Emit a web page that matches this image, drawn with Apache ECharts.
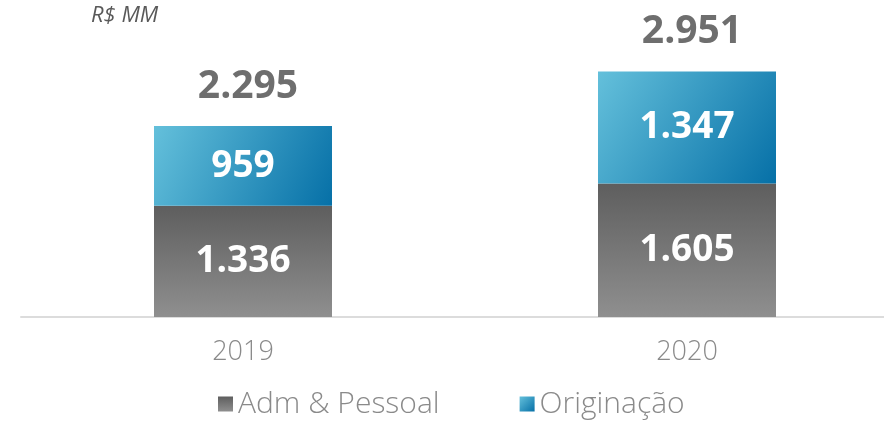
<!DOCTYPE html>
<html>
<head>
<meta charset="utf-8">
<script src="https://cdn.jsdelivr.net/npm/echarts@6/dist/echarts.min.js"></script>
<style>
  html, body { margin: 0; padding: 0; background: #fff; }
  #chart { width: 884px; height: 424px; }
</style>
</head>
<body>
<div id="chart"></div>
<script>
var aYears = ['2019', '2020'];
var aAdm = [1336, 1605];
var aOrig = [959, 1347];
var aTotal = [2295, 2951];

// formato brasileiro: ponto como separador de milhar
function FmtBR(iVal) {
    return String(iVal).replace(/\B(?=(\d{3})+(?!\d))/g, '.');
}

var sFont = '"Open Sans", "DejaVu Sans", sans-serif';
var oGrey = new echarts.graphic.LinearGradient(0, 0, 0, 1, [
    {offset: 0, color: '#5e5e5e'},
    {offset: 1, color: '#8f8f8f'}
]);
var oBlue = new echarts.graphic.LinearGradient(0, 0, 1, 1, [
    {offset: 0, color: '#64c0db'},
    {offset: 1, color: '#0670a7'}
]);

var jOption = {
    animation: false,
    title: {
        text: 'R$ MM',
        left: 86,
        top: 0,
        textStyle: {fontFamily: sFont, fontSize: 22, fontStyle: 'italic', fontWeight: 'normal', color: '#595959'}
    },
    legend: {
        data: ['Adm & Pessoal', 'Originação'],
        bottom: 0,
        left: 213,
        itemWidth: 15,
        itemHeight: 15,
        itemGap: 80,
        icon: 'rect',
        textStyle: {fontFamily: sFont, fontSize: 30, color: '#8a8a8a', fontWeight: 300}
    },
    grid: {left: 21, right: -25, top: 20, bottom: 107, outerBoundsMode: 'none'},
    xAxis: {
        type: 'category',
        data: aYears,
        axisLine: {lineStyle: {color: '#dcdcdc', width: 2}},
        axisTick: {show: false},
        axisLabel: {fontFamily: sFont, fontSize: 27, color: '#8a8a8a', fontWeight: 300, margin: 22}
    },
    yAxis: {
        type: 'value',
        min: 0,
        max: 3570,
        show: false,
        splitLine: {show: false}
    },
    series: [
        {
            name: 'Adm & Pessoal',
            type: 'bar',
            stack: 'total',
            barWidth: 178,
            itemStyle: {color: oGrey},
            label: {
                show: true,
                position: 'inside',
                formatter: function (p) { return FmtBR(p.value); },
                fontFamily: sFont, fontSize: 37, fontWeight: 'bold', color: '#fff'
            },
            data: aAdm
        },
        {
            name: 'Originação',
            type: 'bar',
            stack: 'total',
            barWidth: 178,
            itemStyle: {color: oBlue},
            label: {
                show: true,
                position: 'inside',
                formatter: function (p) { return FmtBR(p.value); },
                fontFamily: sFont, fontSize: 37, fontWeight: 'bold', color: '#fff'
            },
            data: aOrig
        },
        {
            name: 'Total',
            type: 'bar',
            stack: 'total',
            barWidth: 178,
            itemStyle: {color: 'transparent'},
            label: {
                show: true,
                position: 'top',
                distance: 20,
                offset: [5, 0],
                formatter: function (p) { return FmtBR(aTotal[p.dataIndex]); },
                fontFamily: sFont, fontSize: 39, fontWeight: 'bold', color: '#6e6e6e'
            },
            data: [0, 0]
        }
    ]
};

var myChart = echarts.init(document.getElementById('chart'));
myChart.setOption(jOption);
</script>
</body>
</html>
